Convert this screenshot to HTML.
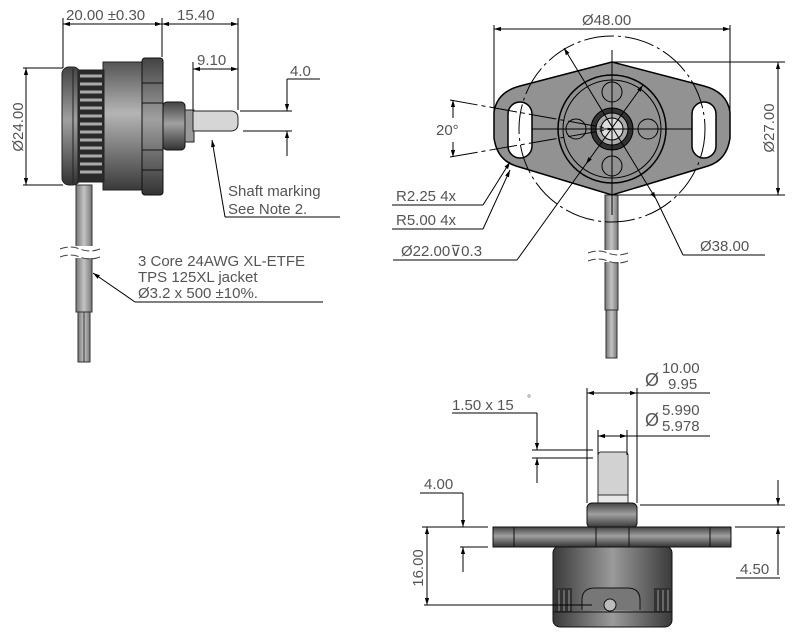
<!DOCTYPE html>
<html><head><meta charset="utf-8"><style>
html,body{margin:0;padding:0;background:#fff;}
svg{display:block;}
text{font-family:"Liberation Sans",sans-serif;font-size:15px;fill:#555;}
</style></head><body>
<svg width="803" height="634" viewBox="0 0 803 634" xmlns="http://www.w3.org/2000/svg">
<defs>
<marker id="a" viewBox="0 0 10 10" refX="10" refY="5" markerWidth="11" markerHeight="7" orient="auto-start-reverse"><path d="M0,2 L10,5 L0,8 z" fill="#000"/></marker>
<linearGradient id="g1" x1="0" y1="0" x2="1" y2="0"><stop offset="0" stop-color="#3a3a3a"/><stop offset="0.5" stop-color="#9a9a9a"/><stop offset="1" stop-color="#3a3a3a"/></linearGradient>
<linearGradient id="gv" x1="0" y1="0" x2="0" y2="1"><stop offset="0" stop-color="#444"/><stop offset="0.45" stop-color="#a0a0a0"/><stop offset="1" stop-color="#333"/></linearGradient>
<linearGradient id="gb" x1="0" y1="0" x2="0" y2="1"><stop offset="0" stop-color="#555"/><stop offset="0.4" stop-color="#b5b5b5"/><stop offset="1" stop-color="#3a3a3a"/></linearGradient>
<linearGradient id="gc" x1="0" y1="0" x2="1" y2="0"><stop offset="0" stop-color="#777"/><stop offset="0.5" stop-color="#c4c4c4"/><stop offset="1" stop-color="#777"/></linearGradient>
</defs>
<g stroke="#000" stroke-width="1" fill="none">
<line x1="63" y1="18" x2="63" y2="68"/><line x1="162" y1="18" x2="162" y2="57"/><line x1="238" y1="18" x2="238" y2="110"/>
<line x1="63" y1="24" x2="162" y2="24" marker-start="url(#a)" marker-end="url(#a)"/>
<line x1="162" y1="24" x2="238" y2="24" marker-start="url(#a)" marker-end="url(#a)"/>
<line x1="193" y1="62" x2="193" y2="125"/>
<line x1="193" y1="69" x2="238" y2="69" marker-start="url(#a)" marker-end="url(#a)"/>
<line x1="287" y1="79" x2="320" y2="79"/>
<line x1="287" y1="79" x2="287" y2="111" marker-end="url(#a)"/>
<line x1="287" y1="156" x2="287" y2="131" marker-end="url(#a)"/>
<line x1="240" y1="111" x2="292" y2="111"/><line x1="243" y1="131" x2="292" y2="131"/>
<line x1="23" y1="68" x2="63" y2="68"/><line x1="23" y1="185" x2="63" y2="185"/>
<line x1="26" y1="68" x2="26" y2="185" marker-start="url(#a)" marker-end="url(#a)"/>
</g>
<rect x="76" y="185" width="16" height="127" fill="url(#gc)" stroke="#333"/>
<rect x="78" y="312" width="12" height="50" fill="url(#gc)" stroke="#333"/>
<line x1="84" y1="312" x2="84" y2="362" stroke="#333"/>
<rect x="70" y="246" width="30" height="12" fill="#fff"/>
<path d="M60,249 q10,-4 20,0 t20,0 M60,257 q10,-4 20,0 t20,0" stroke="#444" fill="none" stroke-dasharray="8 3"/>
<rect x="103" y="62" width="42" height="128" fill="url(#gb)" stroke="#222"/>
<rect x="62" y="67" width="18" height="118" rx="7" fill="url(#gv)" stroke="#222"/>
<line x1="73" y1="69" x2="73" y2="183" stroke="#222"/>
<rect x="78" y="70" width="26" height="112" fill="#2a2a2a" stroke="#222"/>
<g stroke="#aaa" stroke-width="3"><line x1="80" y1="76" x2="102" y2="76"/><line x1="80" y1="84" x2="102" y2="84"/><line x1="80" y1="92" x2="102" y2="92"/><line x1="80" y1="100" x2="102" y2="100"/><line x1="80" y1="108" x2="102" y2="108"/><line x1="80" y1="116" x2="102" y2="116"/><line x1="80" y1="124" x2="102" y2="124"/><line x1="80" y1="132" x2="102" y2="132"/><line x1="80" y1="140" x2="102" y2="140"/><line x1="80" y1="148" x2="102" y2="148"/><line x1="80" y1="156" x2="102" y2="156"/><line x1="80" y1="164" x2="102" y2="164"/><line x1="80" y1="172" x2="102" y2="172"/></g>
<rect x="142" y="58" width="21" height="137" rx="3" fill="url(#gv)" stroke="#111"/>
<g stroke="#111"><line x1="142" y1="83" x2="163" y2="83"/><line x1="142" y1="103" x2="163" y2="103"/><line x1="142" y1="150" x2="163" y2="150"/><line x1="142" y1="170" x2="163" y2="170"/></g>
<rect x="163" y="102" width="22" height="48" rx="4" fill="url(#gv)" stroke="#111"/>
<rect x="185" y="110" width="9" height="32" fill="#999" stroke="#222"/>
<path d="M193,111 L232,111 Q238,112 238,118 L238,124 Q238,130 232,131 L193,131 Z" fill="#d6d6d6" stroke="#222"/>
<g stroke="#000" fill="none">
<line x1="212" y1="140" x2="225" y2="217" marker-start="url(#a)"/><line x1="225" y1="217" x2="340" y2="217"/>
<line x1="93" y1="273" x2="135" y2="302" marker-start="url(#a)"/><line x1="135" y1="302" x2="323" y2="302"/>
</g>
<text x="66" y="20">20.00 ±0.30</text><text x="177" y="20">15.40</text><text x="197" y="65">9.10</text><text x="290" y="76">4.0</text>
<text transform="translate(23,127) rotate(-90)" text-anchor="middle">Ø24.00</text>
<text x="228" y="196">Shaft marking</text><text x="228" y="214">See Note 2.</text>
<text x="138" y="266">3 Core 24AWG XL-ETFE</text><text x="138" y="282">TPS 125XL jacket</text><text x="138" y="298">Ø3.2 x 500 ±10%.</text>

<rect x="605" y="195" width="13" height="115" fill="url(#gc)" stroke="#333"/>
<rect x="606" y="310" width="11" height="48" fill="url(#gc)" stroke="#333"/>
<rect x="595" y="250" width="35" height="12" fill="#fff"/>
<path d="M588,253 q10,-4 20,0 t20,0 M588,261 q10,-4 20,0 t20,0" stroke="#444" fill="none" stroke-dasharray="8 3"/>
<path d="M612,62 L520,86 Q497,92 494,112 L494,138 Q497,160 516,166 L612,195 L708,166 Q727,160 730,138 L730,112 Q727,92 704,86 Z" fill="#929292" stroke="#000" stroke-width="1.5"/>
<circle cx="612" cy="129" r="54" fill="#929292" stroke="#000" stroke-width="1.5"/>
<circle cx="612" cy="129" r="49" fill="none" stroke="#000"/>
<g fill="#929292" stroke="#000"><circle cx="612" cy="92" r="10"/><circle cx="612" cy="166" r="10"/><circle cx="576" cy="129" r="10"/><circle cx="648" cy="129" r="10"/></g>
<circle cx="612" cy="129" r="21" fill="#333" stroke="#000"/>
<circle cx="612" cy="129" r="16" fill="#aaa" stroke="#000"/>
<circle cx="612" cy="129" r="11" fill="#ddd" stroke="#000"/>
<rect x="508" y="102" width="24" height="56" rx="12" fill="#fff" stroke="#000" stroke-width="1.5"/>
<rect x="692" y="102" width="24" height="56" rx="12" fill="#fff" stroke="#000" stroke-width="1.5"/>
<g stroke="#000" fill="none">
<circle cx="612" cy="129" r="93" stroke-dasharray="30 4 3 4"/>
<line x1="612" y1="50" x2="612" y2="215"/><line x1="532" y1="129" x2="692" y2="129"/>
<line x1="450" y1="100" x2="612" y2="129" stroke-dasharray="28 4 4 4"/>
<line x1="450" y1="157" x2="612" y2="129" stroke-dasharray="28 4 4 4"/>
<line x1="453" y1="118" x2="453" y2="100" marker-end="url(#a)"/><line x1="453" y1="142" x2="453" y2="157" marker-end="url(#a)"/>
<line x1="494" y1="25" x2="494" y2="128"/><line x1="730" y1="25" x2="730" y2="140"/>
<line x1="494" y1="29" x2="730" y2="29" marker-start="url(#a)" marker-end="url(#a)"/>
<line x1="612" y1="62" x2="785" y2="62"/><line x1="612" y1="195" x2="785" y2="195"/>
<line x1="778" y1="62" x2="778" y2="195" marker-start="url(#a)" marker-end="url(#a)"/>
<line x1="564" y1="48" x2="656" y2="199" marker-start="url(#a)" marker-end="url(#a)"/><line x1="656" y1="199" x2="683" y2="255"/><line x1="683" y1="255" x2="765" y2="255"/>
<line x1="643" y1="85" x2="586" y2="164" marker-start="url(#a)" marker-end="url(#a)"/><line x1="586" y1="164" x2="517" y2="260"/><line x1="393" y1="260" x2="517" y2="260"/>
<line x1="483" y1="205" x2="510" y2="162" marker-end="url(#a)"/><line x1="392" y1="205" x2="483" y2="205"/>
<line x1="483" y1="229" x2="510" y2="170" marker-end="url(#a)"/><line x1="392" y1="229" x2="483" y2="229"/>
</g>
<text x="582" y="25">Ø48.00</text>
<text x="436" y="135">20°</text>
<text transform="translate(774,128) rotate(-90)" text-anchor="middle">Ø27.00</text>
<text x="700" y="251">Ø38.00</text>
<text x="396" y="201">R2.25  4x</text><text x="396" y="225">R5.00  4x</text>
<text x="401" y="256">Ø22.00⊽0.3</text>

<rect x="598" y="452" width="30" height="52" rx="3" fill="#d2d2d2" stroke="#333"/>
<rect x="598" y="495" width="30" height="8" fill="#e8e8e8" stroke="#333"/>
<rect x="587" y="503" width="50" height="25" rx="5" fill="url(#gv)" stroke="#111"/>
<rect x="553" y="546" width="119" height="81" rx="7" fill="url(#g1)" stroke="#111"/>
<rect x="493" y="527" width="238" height="20" fill="url(#gv)" stroke="#111"/>
<g stroke="#111"><line x1="514" y1="527" x2="514" y2="547"/><line x1="596" y1="527" x2="596" y2="547"/><line x1="629" y1="527" x2="629" y2="547"/><line x1="710" y1="527" x2="710" y2="547"/></g>
<rect x="555" y="588" width="17" height="24" fill="#333"/><rect x="654" y="588" width="17" height="24" fill="#333"/>
<g stroke="#999"><line x1="559" y1="590" x2="559" y2="611"/><line x1="564" y1="590" x2="564" y2="611"/><line x1="569" y1="590" x2="569" y2="611"/><line x1="658" y1="590" x2="658" y2="611"/><line x1="663" y1="590" x2="663" y2="611"/><line x1="668" y1="590" x2="668" y2="611"/></g>
<path d="M582,610 L582,600 Q582,588 595,588 L627,588 Q640,588 640,600 L640,610" fill="#777" stroke="#111"/>
<circle cx="610" cy="605" r="6" fill="#bbb" stroke="#111"/>
<line x1="553" y1="612" x2="672" y2="612" stroke="#111"/>
<g stroke="#000" fill="none">
<line x1="587" y1="388" x2="587" y2="503"/><line x1="637" y1="388" x2="637" y2="503"/>
<line x1="587" y1="393" x2="637" y2="393" marker-start="url(#a)" marker-end="url(#a)"/><line x1="637" y1="393" x2="710" y2="393"/>
<line x1="598" y1="430" x2="598" y2="455"/><line x1="627" y1="430" x2="627" y2="455"/>
<line x1="598" y1="436" x2="627" y2="436" marker-start="url(#a)" marker-end="url(#a)"/><line x1="627" y1="436" x2="710" y2="436"/>
<line x1="452" y1="413" x2="537" y2="413"/>
<line x1="537" y1="413" x2="537" y2="450" marker-end="url(#a)"/><line x1="537" y1="483" x2="537" y2="458" marker-end="url(#a)"/>
<line x1="532" y1="450" x2="593" y2="450"/><line x1="532" y1="458" x2="593" y2="458"/>
<line x1="420" y1="493" x2="463" y2="493"/>
<line x1="463" y1="493" x2="463" y2="527" marker-end="url(#a)"/><line x1="463" y1="572" x2="463" y2="547" marker-end="url(#a)"/>
<line x1="422" y1="527" x2="488" y2="527"/><line x1="460" y1="547" x2="488" y2="547"/>
<line x1="427" y1="527" x2="427" y2="605" marker-start="url(#a)" marker-end="url(#a)"/>
<line x1="424" y1="605" x2="592" y2="605"/>
<line x1="640" y1="505" x2="785" y2="505"/><line x1="735" y1="527" x2="785" y2="527"/>
<line x1="778" y1="480" x2="778" y2="505" marker-end="url(#a)"/><line x1="778" y1="575" x2="778" y2="527" marker-end="url(#a)"/>
<line x1="736" y1="578" x2="780" y2="578"/>
</g>
<text x="645" y="386" style="font-size:18px">Ø</text><text x="662" y="373">10.00</text><text x="668" y="389">9.95</text>
<text x="645" y="426" style="font-size:18px">Ø</text><text x="662" y="415">5.990</text><text x="662" y="431">5.978</text>
<text x="452" y="410">1.50 x 15</text><text x="527" y="402" style="font-size:10px">°</text>
<text x="424" y="489">4.00</text>
<text transform="translate(423,568) rotate(-90)" text-anchor="middle">16.00</text>
<text x="740" y="574">4.50</text>
</svg>
</body></html>
